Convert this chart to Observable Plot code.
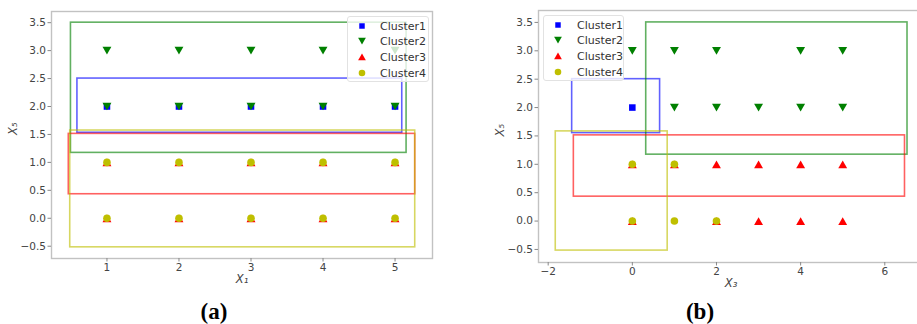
<!DOCTYPE html>
<html><head><meta charset="utf-8">
<script src="https://cdn.jsdelivr.net/npm/d3@7"></script>
<script src="https://cdn.jsdelivr.net/npm/@observablehq/plot@0.6"></script>
<style>
body{margin:0;background:#fff;width:917px;height:324px;overflow:hidden;position:relative;font-family:"DejaVu Sans",sans-serif;}
.panel{position:absolute;top:0;}
.legend{position:absolute;background:rgba(255,255,255,0.8);border:1px solid #e2e2e2;border-radius:3px;font-size:11px;color:#333;box-sizing:border-box;}
.legend .lab{position:absolute;white-space:nowrap;line-height:1;transform:translateY(-50%);}
.legend svg{position:absolute;overflow:visible;}
.cap{position:absolute;font-family:"Liberation Serif",serif;font-weight:bold;font-size:23px;transform:translate(-50%,-50%);white-space:nowrap;}
</style>
</head><body>
<script>
// ---------- data ----------
const clusters = ["Cluster1", "Cluster2", "Cluster3", "Cluster4"];
const captions = ["(a)", "(b)"];
const xLabels = ["X\u2081", "X\u2083"];
const yLabel = "X\u2085";
const yTicks = [-0.5, 0, 0.5, 1, 1.5, 2, 2.5, 3, 3.5];
const aXTicks = [1, 2, 3, 4, 5];
const bXTicks = [-2, 0, 2, 4, 6];

// Panel (a): X1 vs X5
const aC1x = [1, 2, 3, 4, 5];
const aC1y = [2, 2, 2, 2, 2];
const aC2x = [1, 2, 3, 4, 5, 1, 2, 3, 4, 5];
const aC2y = [3, 3, 3, 3, 3, 2, 2, 2, 2, 2];
const aC3x = [1, 2, 3, 4, 5, 1, 2, 3, 4, 5];
const aC3y = [1, 1, 1, 1, 1, 0, 0, 0, 0, 0];
const aC4x = [1, 2, 3, 4, 5, 1, 2, 3, 4, 5];
const aC4y = [1, 1, 1, 1, 1, 0, 0, 0, 0, 0];
const aBoxX1 = [0.59, 0.50, 0.47, 0.49];
const aBoxX2 = [5.10, 5.16, 5.28, 5.28];
const aBoxY1 = [1.53, 1.17, 0.43, -0.52];
const aBoxY2 = [2.50, 3.50, 1.51, 1.57];

// Panel (b): X3 vs X5
const bC1x = [0];
const bC1y = [2];
const bC2x = [0, 1, 2, 4, 5, 1, 2, 3, 4, 5];
const bC2y = [3, 3, 3, 3, 3, 2, 2, 2, 2, 2];
const bC3x = [0, 1, 2, 3, 4, 5, 0, 2, 3, 4, 5];
const bC3y = [1, 1, 1, 1, 1, 1, 0, 0, 0, 0, 0];
const bC4x = [0, 1, 0, 1, 2];
const bC4y = [1, 1, 0, 0, 0];
const bBoxX1 = [-1.43, 0.33, -1.39, -1.82];
const bBoxX2 = [0.66, 6.54, 6.48, 0.84];
const bBoxY1 = [1.55, 1.17, 0.43, -0.52];
const bBoxY2 = [2.50, 3.50, 1.51, 1.58];

// ---------- styles ----------
const colors = ["#0000ff", "#008000", "#ff0000", "#bfbf00"];
const symbols = ["square", "triangle", "triangle", "circle"];
const rotations = [0, 180, 0, 0];
const radii = [3.7, 3.3, 3.3, 3.8];
const symDy = [0, -1.3, 1.3, 0];
const d3Symbols = [d3.symbolSquare, d3.symbolTriangle, d3.symbolTriangle, d3.symbolCircle];

const zipPts = (xs, ys) => xs.map((x, i) => ({x, y: ys[i]}));

function panel({pts, bx1, bx2, by1, by2, xTicks, xDomain, yDomain, xLabel, width, height, margins}) {
  const boxMarks = clusters.map((c, i) => Plot.rect([{x1: bx1[i], x2: bx2[i], y1: by1[i], y2: by2[i]}], {
    x1: "x1", x2: "x2", y1: "y1", y2: "y2", fill: "none", stroke: colors[i], strokeWidth: 1.6, strokeOpacity: 0.62
  }));
  const dotMarks = clusters.map((c, i) => Plot.dot(pts[i], {
    x: "x", y: "y", symbol: () => symbols[i], fill: colors[i], r: radii[i], rotate: rotations[i], dy: symDy[i], stroke: "none"
  }));
  return Plot.plot({
    width, height, ...margins,
    style: {fontFamily: "DejaVu Sans, sans-serif", fontSize: "10.5px", color: "#444", background: "transparent", overflow: "visible"},
    x: {domain: xDomain},
    y: {domain: yDomain},
    symbol: {type: "identity"},
    marks: [
      ...boxMarks,
      ...dotMarks,
      Plot.frame({stroke: "#c2c2c2", strokeWidth: 1.4}),
      Plot.axisX({ticks: xTicks, tickSize: 3.5, tickPadding: 2, tickFormat: d3.format("d"), label: null, stroke: "#888"}),
      Plot.axisY({ticks: yTicks, tickSize: 3.5, tickPadding: 2, tickFormat: d3.format(".1f"), label: null, stroke: "#888"}),
      Plot.text([xLabel], {frameAnchor: "bottom", text: d => d, dy: 24, fontStyle: "italic", fontSize: 11.5, fill: "#444"}),
      Plot.text([yLabel], {frameAnchor: "left", text: d => d, dx: -38, rotate: -90, fontStyle: "italic", fontSize: 11.5, fill: "#444"})
    ]
  });
}

function addPanel(left, svg) {
  svg.classList.add("panel");
  svg.style.left = left + "px";
  document.body.appendChild(svg);
}

addPanel(0, panel({
  pts: [zipPts(aC1x, aC1y), zipPts(aC2x, aC2y), zipPts(aC3x, aC3y), zipPts(aC4x, aC4y)],
  bx1: aBoxX1, bx2: aBoxX2, by1: aBoxY1, by2: aBoxY2,
  xTicks: aXTicks, xDomain: [0.23, 5.52], yDomain: [-0.72, 3.70], xLabel: xLabels[0],
  width: 460, height: 295,
  margins: {marginLeft: 51, marginRight: 28, marginTop: 11, marginBottom: 37}
}));

addPanel(460, panel({
  pts: [zipPts(bC1x, bC1y), zipPts(bC2x, bC2y), zipPts(bC3x, bC3y), zipPts(bC4x, bC4y)],
  bx1: bBoxX1, bx2: bBoxX2, by1: bBoxY1, by2: bBoxY2,
  xTicks: bXTicks, xDomain: [-2.23, 6.92], yDomain: [-0.73, 3.71], xLabel: xLabels[1],
  width: 470, height: 295,
  margins: {marginLeft: 78, marginRight: 7, marginTop: 10, marginBottom: 33}
}));

// legends
function addLegend(left, top, w, h, mx, tx) {
  const lg = document.createElement("div");
  lg.className = "legend";
  Object.assign(lg.style, {left: left + "px", top: top + "px", width: w + "px", height: h + "px"});
  clusters.forEach((c, i) => {
    const cy = 8.5 + i * 15.7;
    const s = d3.create("svg").attr("width", 10).attr("height", 10)
      .style("left", (mx - 5) + "px").style("top", (cy - 5) + "px");
    s.append("path")
      .attr("d", d3.symbol(d3Symbols[i], i === 0 ? 30 : i === 3 ? 34 : 26)())
      .attr("transform", `translate(5,${5 + symDy[i] * 0.8}) rotate(${rotations[i]})`)
      .attr("fill", colors[i]);
    lg.appendChild(s.node());
    const t = document.createElement("div");
    t.className = "lab";
    t.textContent = c;
    Object.assign(t.style, {left: tx + "px", top: cy + "px"});
    lg.appendChild(t);
  });
  document.body.appendChild(lg);
}
addLegend(347, 16, 82, 66, 14, 32);
addLegend(543, 15, 81, 66, 14, 33);

// captions
[[214, 312], [700, 312]].forEach(([x, y], i) => {
  const d = document.createElement("div");
  d.className = "cap";
  d.textContent = captions[i];
  Object.assign(d.style, {left: x + "px", top: y + "px"});
  document.body.appendChild(d);
});
</script>
</body></html>
